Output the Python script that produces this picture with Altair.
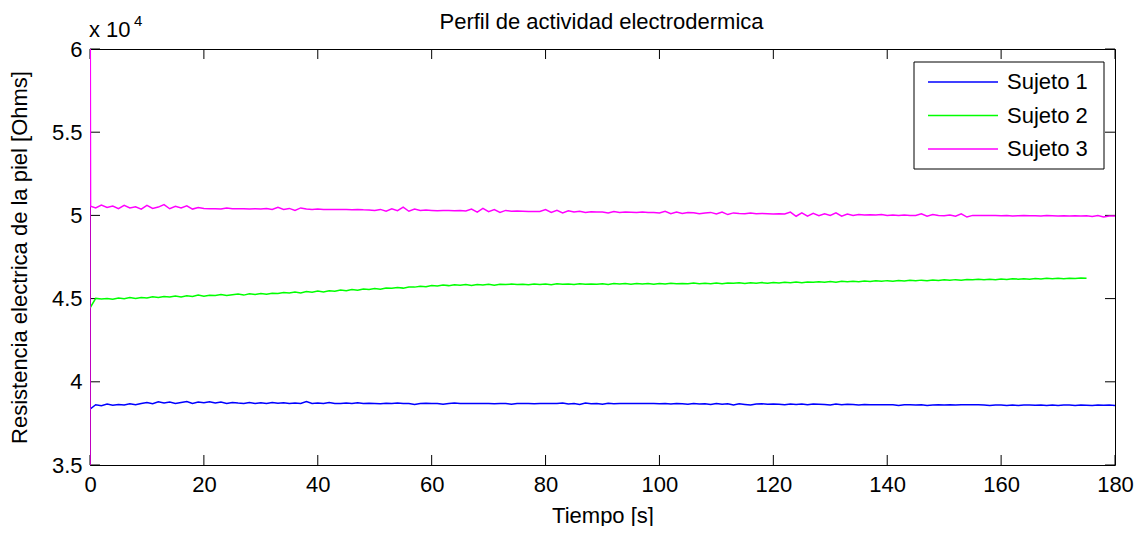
import altair as alt
import pandas as pd

# ---------------- data ----------------
series_names = ["Sujeto 1", "Sujeto 2", "Sujeto 3"]
series_colors = ["#0000ff", "#00ff00", "#ff00ff"]

# Sujeto 1: one sample per second, t = 0 .. 180 s  [Ohms]
sujeto1 = [
    38350, 38620, 38560, 38660, 38590, 38640, 38600, 38680, 38620, 38700,
    38760, 38680, 38800, 38720, 38780, 38690, 38760, 38820, 38700, 38780,
    38740, 38800, 38720, 38790, 38700, 38760, 38720, 38690, 38750, 38700,
    38740, 38700, 38760, 38710, 38740, 38690, 38720, 38700, 38810, 38700,
    38720, 38700, 38760, 38700, 38690, 38720, 38700, 38740, 38700, 38710,
    38700, 38680, 38710, 38700, 38720, 38700, 38700, 38640, 38700, 38710,
    38700, 38700, 38650, 38700, 38720, 38700, 38700, 38690, 38700, 38700,
    38700, 38680, 38700, 38700, 38650, 38700, 38700, 38700, 38680, 38700,
    38700, 38690, 38700, 38720, 38660, 38700, 38640, 38720, 38680, 38700,
    38650, 38710, 38680, 38700, 38700, 38700, 38700, 38700, 38700, 38700,
    38680, 38690, 38660, 38690, 38680, 38650, 38690, 38660, 38680, 38640,
    38690, 38650, 38680, 38600, 38680, 38640, 38600, 38660, 38680, 38650,
    38660, 38650, 38620, 38660, 38640, 38670, 38620, 38660, 38650, 38640,
    38600, 38660, 38620, 38650, 38640, 38600, 38640, 38620, 38620, 38620,
    38620, 38620, 38580, 38620, 38620, 38600, 38620, 38580, 38610, 38620,
    38600, 38620, 38600, 38620, 38620, 38620, 38620, 38600, 38580, 38600,
    38600, 38570, 38600, 38580, 38610, 38600, 38590, 38600, 38580, 38600,
    38580, 38600, 38600, 38570, 38600, 38590, 38580, 38600, 38590, 38600,
    38580,
]

# Sujeto 2: one sample per second, t = 0 .. 175 s  [Ohms]
sujeto2 = [
    44430, 45020, 44980, 45010, 44960, 45030, 44990, 45060, 45010, 45070,
    45030, 45110, 45060, 45120, 45090, 45160, 45100, 45170, 45130, 45210,
    45140, 45200, 45190, 45240, 45180, 45230, 45270, 45210, 45290, 45250,
    45310, 45260, 45320, 45310, 45370, 45330, 45390, 45340, 45420, 45380,
    45450, 45400, 45470, 45440, 45510, 45470, 45540, 45500, 45580, 45550,
    45600, 45560, 45640, 45620, 45670, 45630, 45700, 45690, 45740, 45710,
    45790, 45760, 45810, 45780, 45830, 45800, 45840, 45790, 45850, 45820,
    45860, 45810, 45860, 45840, 45870, 45850, 45860, 45830, 45880, 45850,
    45880, 45840, 45890, 45860, 45880, 45850, 45890, 45860, 45870, 45860,
    45890, 45850, 45900, 45880, 45900, 45860, 45910, 45880, 45900, 45870,
    45910, 45880, 45920, 45890, 45910, 45890, 45930, 45900, 45920, 45900,
    45940, 45900, 45940, 45920, 45950, 45910, 45950, 45930, 45960, 45930,
    45970, 45940, 45980, 45960, 45990, 45950, 46000, 45980, 46010, 45990,
    46030, 45990, 46040, 46010, 46040, 46020, 46060, 46030, 46070, 46040,
    46080, 46050, 46090, 46060, 46100, 46070, 46110, 46080, 46120, 46090,
    46130, 46100, 46140, 46110, 46150, 46130, 46160, 46130, 46170, 46140,
    46180, 46150, 46190, 46170, 46200, 46170, 46210, 46180, 46220, 46190,
    46230, 46200, 46230, 46210, 46240, 46220,
]

# Sujeto 3: start-up transient (off the axis range) then one sample per second, t = 1 .. 180 s
sujeto3_start_t = [0, 0, 0.1]
sujeto3_start = [20000, 70000, 50550]
sujeto3 = [
    50450, 50620, 50480, 50560, 50400, 50600, 50450, 50520, 50380,
    50600, 50420, 50500, 50650, 50400, 50550, 50450, 50580, 50380, 50480,
    50420, 50400, 50400, 50380, 50450, 50400, 50400, 50400, 50380, 50400,
    50380, 50420, 50350, 50480, 50360, 50420, 50300, 50450, 50380, 50360,
    50380, 50360, 50360, 50350, 50360, 50350, 50340, 50360, 50340, 50330,
    50300, 50360, 50250, 50400, 50280, 50500, 50250, 50380, 50300, 50320,
    50300, 50280, 50300, 50290, 50280, 50300, 50260, 50380, 50200, 50420,
    50220, 50350, 50180, 50300, 50250, 50260, 50250, 50240, 50240, 50230,
    50350, 50180, 50300, 50150, 50280, 50200, 50250, 50180, 50220, 50200,
    50200, 50150, 50230, 50180, 50200, 50190, 50180, 50200, 50170, 50180,
    50150, 50250, 50100, 50200, 50120, 50180, 50160, 50100, 50150, 50180,
    50080, 50200, 50050, 50150, 50120, 50100, 50150, 50100, 50120, 50100,
    50080, 50100, 50080, 50200, 49950, 50150, 49950, 50120, 49980, 50100,
    50000, 50150, 49950, 50080, 50000, 50050, 50020, 50040, 50020, 50050,
    50000, 50030, 50000, 50020, 50000, 50000, 50100, 49950, 50050, 50000,
    49980, 50020, 49950, 50100, 49900, 50000, 49990, 50000, 49990, 49990,
    49980, 49990, 49970, 49980, 49990, 49980, 49980, 49960, 49990, 49980,
    49970, 49980, 49960, 49980, 49970, 49980, 49940, 49990, 49900, 49960,
    49960,
]

x_ticks = [0, 20, 40, 60, 80, 100, 120, 140, 160, 180]
y_ticks = [35000, 40000, 45000, 50000, 55000, 60000]
x_domain = [0, 180]
y_domain = [35000, 60000]

title_text = "Perfil de actividad electrodermica"
x_title = "Tiempo [s]"
y_title = "Resistencia electrica de la piel [Ohms]"

# ---------------- build table ----------------
t1 = list(range(len(sujeto1)))
t2 = list(range(len(sujeto2)))
t3 = sujeto3_start_t + list(range(1, len(sujeto3) + 1))
v3 = sujeto3_start + sujeto3

rows = []
for name, ts, vs in [(series_names[0], t1, sujeto1),
                     (series_names[1], t2, sujeto2),
                     (series_names[2], t3, v3)]:
    for i, (t, v) in enumerate(zip(ts, vs)):
        rows.append({"serie": name, "t": t, "v": v, "i": i})
df = pd.DataFrame(rows)

W, H = 1025, 416
FONT = "Liberation Sans"
FS = 22

xscale = alt.Scale(domain=x_domain, nice=False, zero=False)
yscale = alt.Scale(domain=y_domain, nice=False, zero=False)
cscale = alt.Scale(domain=series_names, range=series_colors)

lines = alt.Chart(df).mark_line(strokeWidth=1.5, clip=True).encode(
    x=alt.X("t:Q", scale=xscale,
            axis=alt.Axis(values=x_ticks, title=x_title, grid=False, ticks=False,
                          domain=False, labelPadding=9, titlePadding=10,
                          labelFontSize=FS, titleFontSize=FS, titleFontWeight="normal",
                          labelColor="black", titleColor="black", labelFlush=False)),
    y=alt.Y("v:Q", scale=yscale,
            axis=alt.Axis(values=y_ticks, title=y_title, grid=False, ticks=False,
                          domain=False, labelPadding=8, titlePadding=20,
                          labelExpr="datum.value / 10000",
                          labelFontSize=FS, titleFontSize=FS, titleFontWeight="normal",
                          labelColor="black", titleColor="black", labelFlush=False)),
    color=alt.Color("serie:N", scale=cscale, legend=None),
    order="i:Q",
)

xt = pd.DataFrame({"t": x_ticks})
yt = pd.DataFrame({"v": y_ticks})
TL = 10
tick_bottom = alt.Chart(xt).mark_rule(color="black", strokeWidth=1).encode(
    x=alt.X("t:Q", scale=xscale), y=alt.value(H), y2=alt.value(H - TL))
tick_top = alt.Chart(xt).mark_rule(color="black", strokeWidth=1).encode(
    x=alt.X("t:Q", scale=xscale), y=alt.value(0), y2=alt.value(TL))
tick_left = alt.Chart(yt).mark_rule(color="black", strokeWidth=1).encode(
    y=alt.Y("v:Q", scale=yscale), x=alt.value(0), x2=alt.value(TL))
tick_right = alt.Chart(yt).mark_rule(color="black", strokeWidth=1).encode(
    y=alt.Y("v:Q", scale=yscale), x=alt.value(W), x2=alt.value(W - TL))

one = pd.DataFrame({"a": [0]})

# chart title (drawn as text so it sits at a fixed place above the box)
title_mark = alt.Chart(one).mark_text(align="center", baseline="middle", fontSize=FS,
                                      font=FONT, color="black").encode(
    x=alt.value(W / 2 - 1), y=alt.value(-27), text=alt.value(title_text))

# exponent label "x 10^4"
exp_base = alt.Chart(one).mark_text(align="left", baseline="alphabetic", fontSize=FS,
                                    font=FONT, color="black").encode(
    x=alt.value(-1), y=alt.value(-12), text=alt.value("x 10"))
exp_pow = alt.Chart(one).mark_text(align="left", baseline="alphabetic", fontSize=15,
                                   font=FONT, color="black").encode(
    x=alt.value(44), y=alt.value(-23), text=alt.value("4"))

# legend (MATLAB style box)
LX0, LX1, LY0, LY1 = 824, 1014, 13, 120
leg_box = alt.Chart(one).mark_rect(fill="white", stroke="black", strokeWidth=1).encode(
    x=alt.value(LX0), x2=alt.value(LX1), y=alt.value(LY0), y2=alt.value(LY1))
leg_df = pd.DataFrame({"serie": series_names,
                       "ly": [LY0 + 20 + 33.5 * k for k in range(len(series_names))]})
leg_lines = alt.Chart(leg_df).mark_rule(strokeWidth=1.3).encode(
    y=alt.Y("ly:Q", scale=None), x=alt.value(LX0 + 14), x2=alt.value(LX0 + 84),
    color=alt.Color("serie:N", scale=cscale, legend=None))
leg_text = alt.Chart(leg_df).mark_text(align="left", baseline="middle", fontSize=FS,
                                       font=FONT, color="black").encode(
    y=alt.Y("ly:Q", scale=None), x=alt.value(LX0 + 93), text="serie:N")

chart = alt.layer(
    tick_bottom, tick_top, tick_left, tick_right, lines, title_mark, exp_base, exp_pow,
    leg_box, leg_lines, leg_text,
).properties(
    width=W, height=H,
    autosize=alt.AutoSizeParams(type="none"),
    padding={"left": 82, "top": 41, "right": 19, "bottom": 61},
).configure(
    font=FONT, background="white",
).configure_view(
    stroke="black", strokeWidth=1,
).configure_axis(
    labelFont=FONT, titleFont=FONT,
)

chart.save("out.html", embed_options={"renderer": "svg", "actions": False})
